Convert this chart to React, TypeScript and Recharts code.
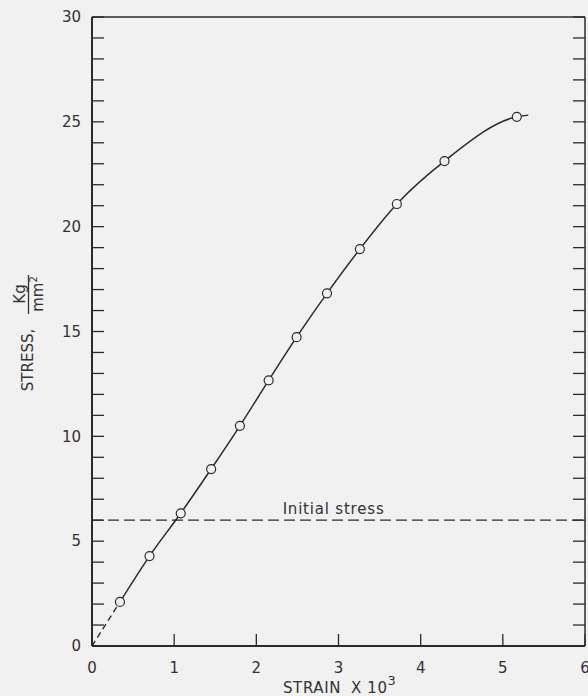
import React from 'react';
import { ComposedChart, XAxis, YAxis, Line, Scatter, ReferenceLine } from 'recharts';

// ---- data ----
const strainPoints = [0.34, 0.70, 1.08, 1.45, 1.80, 2.15, 2.49, 2.86, 3.26, 3.71, 4.29, 5.17];
const stressPoints = [2.10, 4.29, 6.33, 8.44, 10.50, 12.67, 14.73, 16.82, 18.93, 21.08, 23.13, 25.24];
const curveEndStrain = 5.31;
const curveEndStress = 25.32;
const originStrain = [0, 0.34];
const originStress = [0, 2.10];
const initialStress = 6.0;
const initialStressLabel = 'Initial stress';

const xTicks = [0, 1, 2, 3, 4, 5, 6];
const xInnerTicks = [1, 2, 3, 4, 5];
const yTicks = [0, 1, 2, 3, 4, 5, 6, 7, 8, 9, 10, 11, 12, 13, 14, 15, 16, 17, 18, 19, 20, 21, 22, 23, 24, 25, 26, 27, 28, 29, 30];
const yLabelTicks = [0, 5, 10, 15, 20, 25, 30];

const points = strainPoints.map((s, i) => ({ strain: s, stress: stressPoints[i] }));
const curve = [...points, { strain: curveEndStrain, stress: curveEndStress }];
const origin = originStrain.map((s, i) => ({ strain: s, stress: originStress[i] }));

const INK = '#2b2b2b';
const TXT = '#333';
const FONT = 'DejaVu Sans, sans-serif';
const BG = '#f1f1f1';

const YTitle = () => (
  <g fill={TXT} fontFamily={FONT} fontSize={15}>
    <text transform="rotate(-90)" x={-360} y={33} textAnchor="middle">STRESS,</text>
    <text transform="rotate(-90)" x={-294} y={25} textAnchor="middle">Kg</text>
    <line x1={28.5} y1={275} x2={28.5} y2={314} stroke={TXT} strokeWidth={1.3} />
    <text transform="rotate(-90)" x={-294} y={43} textAnchor="middle">
      mm<tspan dy={-6} fontSize={10}>2</tspan>
    </text>
  </g>
);

const XTitle = () => (
  <text x={283} y={693} fill={TXT} fontFamily={FONT} fontSize={15} letterSpacing={0.6}>
    <tspan>STRAIN</tspan>
    <tspan dx={10}>X 10</tspan>
    <tspan dy={-8} fontSize={13}>3</tspan>
  </text>
);

const InitialLabel = (props: any) => {
  const vb = props.viewBox || { x: 0, y: 0, width: 0 };
  return (
    <text
      x={vb.x + vb.width * 0.49}
      y={vb.y - 6}
      textAnchor="middle"
      fill={TXT}
      fontFamily={FONT}
      fontSize={15}
      letterSpacing={0.8}
    >
      {initialStressLabel}
    </text>
  );
};

const Circle = (props: any) => (
  <circle cx={props.cx} cy={props.cy} r={4.5} fill={BG} stroke={INK} strokeWidth={1.2} />
);

const blank = () => '';

export default function App() {
  return (
    <div style={{ position: 'absolute', left: 0, top: 0, width: 588, height: 696, background: BG }}>
      <ComposedChart
        width={588}
        height={696}
        margin={{ top: 16, right: 2, bottom: 0, left: 0 }}
      >
        <XAxis
          dataKey="strain"
          type="number"
          domain={[0, 6]}
          ticks={xTicks}
          allowDataOverflow
          height={50}
          interval={0}
          tickSize={-12}
          tickMargin={28}
          axisLine={{ stroke: INK, strokeWidth: 2 }}
          tickLine={{ stroke: INK, strokeWidth: 1.3 }}
          tick={{ fill: TXT, fontSize: 15, fontFamily: FONT }}
          label={<XTitle />}
        />
        <XAxis
          xAxisId="top"
          orientation="top"
          type="number"
          domain={[0, 6]}
          ticks={xInnerTicks}
          allowDataOverflow
          height={1}
          interval={0}
          tickSize={-12}
          tickFormatter={blank}
          axisLine={{ stroke: INK, strokeWidth: 1.5 }}
          tickLine={{ stroke: INK, strokeWidth: 1.3 }}
          tick={{ fontSize: 1 }}
        />
        <YAxis
          dataKey="stress"
          type="number"
          domain={[0, 30]}
          ticks={yTicks}
          allowDataOverflow
          width={92}
          interval={0}
          tickSize={-12}
          tickMargin={23}
          tickFormatter={(v: number) => (yLabelTicks.includes(v) ? String(v) : '')}
          axisLine={{ stroke: INK, strokeWidth: 2 }}
          tickLine={{ stroke: INK, strokeWidth: 1.3 }}
          tick={{ fill: TXT, fontSize: 15, fontFamily: FONT }}
          label={<YTitle />}
        />
        <YAxis
          yAxisId="right"
          orientation="right"
          type="number"
          domain={[0, 30]}
          ticks={yTicks}
          allowDataOverflow
          width={1}
          interval={0}
          tickSize={-12}
          tickFormatter={blank}
          axisLine={{ stroke: INK, strokeWidth: 1.5 }}
          tickLine={{ stroke: INK, strokeWidth: 1.3 }}
          tick={{ fontSize: 1 }}
        />
        <ReferenceLine
          y={initialStress}
          stroke={INK}
          strokeWidth={1.3}
          strokeDasharray="11 5"
          label={<InitialLabel />}
        />
        <Line
          data={origin}
          dataKey="stress"
          type="linear"
          stroke={INK}
          strokeWidth={1.4}
          strokeDasharray="6 4"
          dot={false}
          isAnimationActive={false}
        />
        <Line
          data={curve}
          dataKey="stress"
          type="monotone"
          stroke={INK}
          strokeWidth={1.5}
          dot={false}
          isAnimationActive={false}
        />
        <Scatter
          data={points}
          dataKey="stress"
          shape={<Circle />}
          isAnimationActive={false}
        />
      </ComposedChart>
    </div>
  );
}
